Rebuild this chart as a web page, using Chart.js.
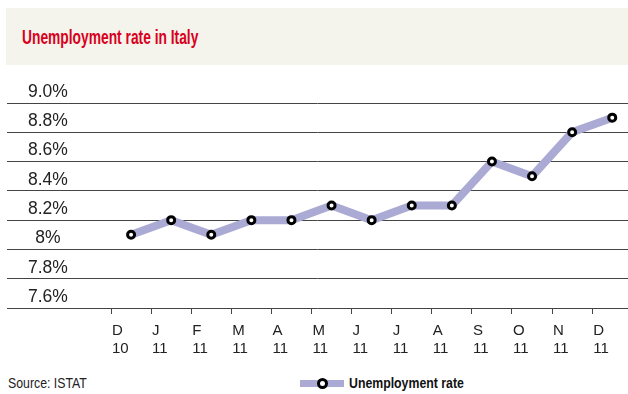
<!DOCTYPE html>
<html>
<head>
<meta charset="utf-8">
<script src="https://cdn.jsdelivr.net/npm/chart.js@4/dist/chart.umd.min.js"></script>
<style>
  body { margin: 0; width: 628px; height: 394px; background: #fff; position: relative; overflow: hidden; }
  #head { position: absolute; left: 6px; top: 8px; width: 622px; height: 57px; background: #f4f3ec; }
  /* narrow gothic look: squeeze a regular sans horizontally */
  .narrow { display: inline-block; transform-origin: 0 50%; white-space: nowrap; }
  #head span { position: absolute; left: 16px; top: 18px; font: bold 20px "Liberation Sans", sans-serif; color: #d9001d; transform: scaleX(0.69); }
  #chart { position: absolute; left: 0; top: 66px; }
  #source { position: absolute; left: 8px; top: 374px; font: 15px "Liberation Sans", sans-serif; color: #222; transform: scaleX(0.82); }
  #legend { position: absolute; left: 300px; top: 374px; white-space: nowrap; }
  #legend .swatch { position: absolute; left: 0; top: 6px; width: 44px; height: 7px; background: #aaaad4; }
  #legend .swatch i { position: absolute; left: 17px; top: -2px; width: 5px; height: 5px; border: 3px solid #000; border-radius: 50%; background: #fff; }
  #legend .text { position: absolute; left: 49px; top: 0; font: bold 15px "Liberation Sans", sans-serif; color: #111; transform: scaleX(0.82); }
</style>
</head>
<body>
<div id="head"><span class="narrow">Unemployment rate in Italy</span></div>
<canvas id="chart" width="628" height="300"></canvas>
<div id="source" class="narrow">Source: ISTAT</div>
<div id="legend"><span class="swatch"><i></i></span><span class="text narrow">Unemployment rate</span></div>

<script>
// Monthly rate, Dec 2010 .. Dec 2011
const months = ['D', 'J', 'F', 'M', 'A', 'M', 'J', 'J', 'A', 'S', 'O', 'N', 'D'];
const years  = ['10', '11', '11', '11', '11', '11', '11', '11', '11', '11', '11', '11', '11'];
const rates  = [8.1, 8.2, 8.1, 8.2, 8.2, 8.3, 8.2, 8.3, 8.3, 8.6, 8.5, 8.8, 8.9];

const yTicks      = [7.6, 7.8, 8.0, 8.2, 8.4, 8.6, 8.8, 9.0];
const yTickLabels = ['7.6%', '7.8%', '8%', '8.2%', '8.4%', '8.6%', '8.8%', '9.0%'];

const ctx = document.getElementById('chart').getContext('2d');

new Chart(ctx, {
  type: 'line',
  data: {
    datasets: [{
      label: 'Unemployment rate',
      data: rates.map((v, i) => ({ x: i, y: v })),
      borderColor: '#aaaad4',
      borderWidth: 8,
      tension: 0,
      pointRadius: 3.5,
      pointBorderWidth: 3,
      pointBorderColor: '#000',
      pointBackgroundColor: '#fff'
    }]
  },
  options: {
    responsive: false,
    animation: false,
    layout: { autoPadding: false, padding: { top: 37, left: 7, right: 0, bottom: 0 } },
    plugins: {
      legend: { display: false },
      tooltip: { enabled: false }
    },
    scales: {
      x: {
        type: 'linear',
        min: -3.094,
        max: 12.393,
        // tick marks sit on the month boundaries, the month name starts there
        afterBuildTicks: s => { s.ticks = months.map((m, i) => ({ value: i - 0.5 })); },
        afterFit: s => { s.height = 58; s.paddingLeft = 0; s.paddingRight = 0; },
        ticks: {
          callback: (v, i) => [months[i], years[i]],
          align: 'start',
          labelOffset: 1,
          autoSkip: false,
          maxRotation: 0,
          padding: 8,
          color: '#222',
          font: { family: 'Liberation Sans', size: 15 }
        },
        grid: { drawOnChartArea: false, tickLength: 6, color: '#444' },
        border: { display: false }
      },
      y: {
        min: 7.6,
        max: 9.0,
        afterBuildTicks: s => { s.ticks = yTicks.map(v => ({ value: v })); },
        afterFit: s => { s.width = 0; },
        ticks: {
          callback: (v, i) => yTickLabels[i],
          mirror: true,
          crossAlign: 'center',
          padding: 21,
          labelOffset: -11,
          color: '#222',
          font: { family: 'Liberation Sans', size: 17.5 }
        },
        grid: { color: '#444', drawTicks: false },
        border: { display: false }
      }
    }
  }
});
</script>
</body>
</html>
